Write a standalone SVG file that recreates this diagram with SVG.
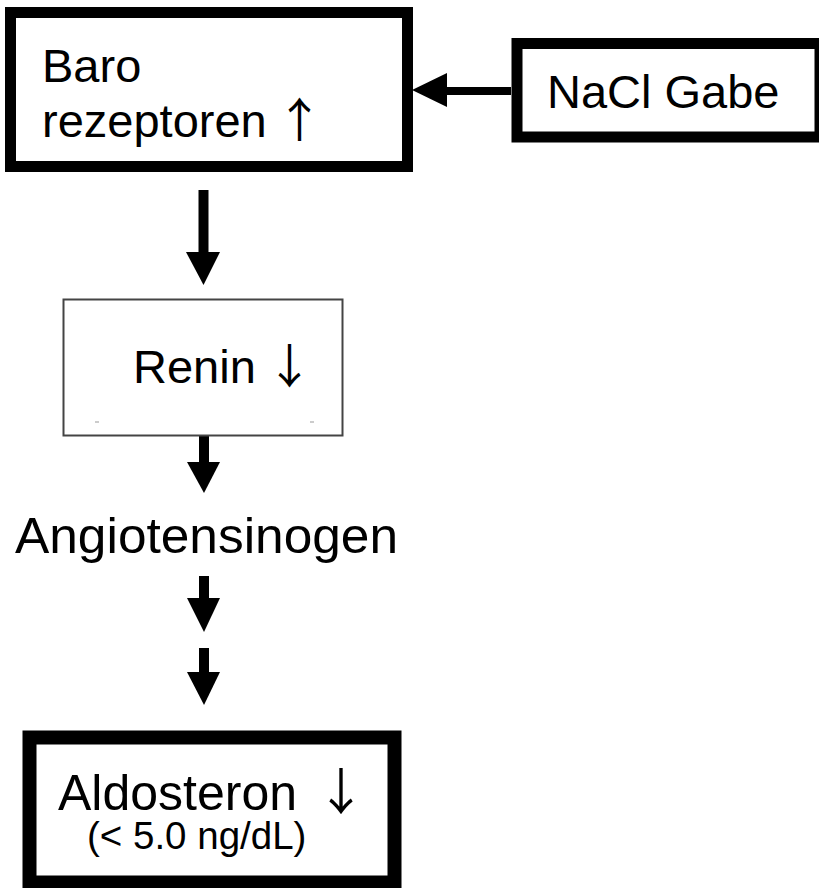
<svg xmlns="http://www.w3.org/2000/svg" width="819" height="888" viewBox="0 0 819 888">
  <style>
    .box { fill: #ffffff; stroke: #000000; }
    .thick { stroke-width: 11; }
    .thin { stroke: #444444; stroke-width: 2; }
    .lbl { font-family: "Liberation Sans", Arial, sans-serif; fill: #000000; }
    .arr { font-family: "Noto Sans CJK JP", "DejaVu Sans", sans-serif; }
    .shaft { stroke: #000000; stroke-width: 10; fill: none; }
    .head { fill: #000000; }
  </style>
  <rect x="0" y="0" width="819" height="888" fill="#ffffff"/>

  <!-- connectors -->
  <g id="connectors">
    <!-- NaCl Gabe -> Barorezeptoren -->
    <line class="shaft" x1="511" y1="91" x2="445" y2="91" style="stroke-width:8"/>
    <polygon class="head" points="447,73 412,90 447,107"/>
    <!-- Barorezeptoren -> Renin -->
    <line class="shaft" x1="203.5" y1="190" x2="203.5" y2="254"/>
    <polygon class="head" points="186,252 220,252 203.5,285"/>
    <!-- Renin -> Angiotensinogen -->
    <line class="shaft" x1="204" y1="436" x2="204" y2="464"/>
    <polygon class="head" points="187,462 220,462 204,493"/>
    <!-- Angiotensinogen -> ... -->
    <line class="shaft" x1="204" y1="576" x2="204" y2="600"/>
    <polygon class="head" points="187,598 220,598 204,632"/>
    <!-- ... -> Aldosteron -->
    <line class="shaft" x1="204" y1="648" x2="204" y2="674"/>
    <polygon class="head" points="187,672 220,672 204,705"/>
  </g>

  <g id="node-barorezeptoren">
    <rect class="box thick" x="10.5" y="12.5" width="397" height="154"/>
    <text class="lbl" x="42" y="82" font-size="47">Baro</text>
    <text class="lbl" x="42" y="137" font-size="47">rezeptoren <tspan class="arr" x="276">↑</tspan></text>
  </g>

  <g id="node-nacl">
    <rect class="box thick" x="517" y="43.5" width="303" height="93.5"/>
    <text class="lbl" x="547" y="108" font-size="47">NaCl Gabe</text>
  </g>

  <g id="node-renin">
    <rect class="box thin" x="63.5" y="299.5" width="279" height="136"/>
    <line x1="95" y1="422" x2="99" y2="422" stroke="#999999" stroke-width="1"/>
    <line x1="310" y1="422" x2="314" y2="422" stroke="#999999" stroke-width="1"/>
    <text class="lbl" x="133" y="383" font-size="47">Renin <tspan class="arr" x="266">↓</tspan></text>
  </g>

  <g id="node-angiotensinogen">
    <text class="lbl" x="15" y="553" font-size="50" textLength="383" lengthAdjust="spacingAndGlyphs">Angiotensinogen</text>
  </g>

  <g id="node-aldosteron">
    <rect class="box" x="29.5" y="737.5" width="365" height="145" stroke-width="14"/>
    <text class="lbl" x="58" y="810" font-size="50">Aldosteron <tspan class="arr" x="316">↓</tspan></text>
    <text class="lbl" x="87" y="849" font-size="38.5">(&lt; 5.0 ng/dL)</text>
  </g>
</svg>
